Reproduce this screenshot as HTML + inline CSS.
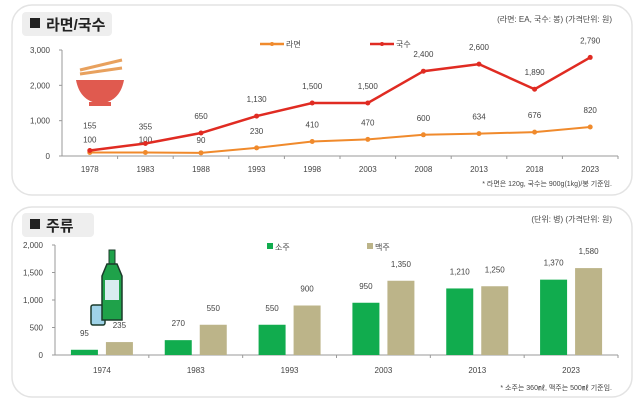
<!DOCTYPE html>
<html><head><meta charset="utf-8"><style>
body{margin:0;width:640px;height:400px;background:#fff;font-family:"Liberation Sans","Noto Sans CJK KR",sans-serif;overflow:hidden}
svg{display:block}
text{font-family:"Liberation Sans","Noto Sans CJK KR",sans-serif}
</style></head><body>
<svg width="640" height="400">
<g>
<rect x="12" y="5" width="620" height="190" rx="20" fill="#fff" stroke="#e3e3e3" stroke-width="1.5"/>
<rect x="22" y="12" width="90" height="24" rx="4" fill="#eeeeee"/>
<rect x="30" y="18" width="10" height="10" fill="#222"/>
<text x="46" y="30" font-size="15" font-weight="bold" fill="#222">라면/국수</text>
<text x="612" y="22" font-size="8" fill="#444" text-anchor="end">(라면: EA, 국수: 봉) (가격단위: 원)</text>
<text x="612" y="186" font-size="7" fill="#444" text-anchor="end">* 라면은 120g, 국수는 900g(1kg)/봉 기준임.</text>
<g>
<line x1="80" y1="70" x2="122" y2="60" stroke="#e8a15e" stroke-width="3"/>
<line x1="80" y1="74" x2="122" y2="68" stroke="#e8a15e" stroke-width="3"/>
<path d="M76 80 h48 c-3 16 -12 22 -24 24 c-12 -2 -21 -8 -24 -24z" fill="#e05a4f"/>
<rect x="89" y="102" width="22" height="4" fill="#e05a4f"/>
</g>
<g id="g1"></g>
</g>
<g>
<rect x="12" y="207" width="620" height="190" rx="20" fill="#fff" stroke="#e3e3e3" stroke-width="1.5"/>
<rect x="22" y="213" width="72" height="24" rx="4" fill="#eeeeee"/>
<rect x="30" y="219" width="10" height="10" fill="#222"/>
<text x="46" y="231" font-size="15" font-weight="bold" fill="#222">주류</text>
<text x="612" y="222" font-size="8" fill="#444" text-anchor="end">(단위: 병) (가격단위: 원)</text>
<text x="612" y="390" font-size="7" fill="#444" text-anchor="end">* 소주는 360㎖, 맥주는 500㎖ 기준임.</text>
<g>
<rect x="91" y="305" width="14" height="20" rx="2" fill="#9fd3e8" stroke="#1b3a2a" stroke-width="1.5"/>
<rect x="109" y="250" width="6" height="14" fill="#1fa24a" stroke="#1b3a2a"/>
<path d="M107 264 h10 l5 12 v44 h-20 v-44z" fill="#1fa24a" stroke="#1b3a2a" stroke-width="1.5"/>
<rect x="105" y="280" width="14" height="20" fill="#d8ecf0"/>
</g>
<g id="g2"></g>
</g>
</svg>
<script>
const noodleYears=["1978","1983","1988","1993","1998","2003","2008","2013","2018","2023"];
const ramenValues=[100,100,90,230,410,470,600,634,676,820];
const noodleValues=[155,355,650,1130,1500,1500,2400,2600,1890,2790];
const noodleTicks=[0,1000,2000,3000];
const liquorYears=["1974","1983","1993","2003","2013","2023"];
const sojuValues=[95,270,550,950,1210,1370];
const beerValues=[235,550,900,1350,1250,1580];
const liquorTicks=[0,500,1000,1500,2000];
const NS="http://www.w3.org/2000/svg";
function mk(p,t,a){const e=document.createElementNS(NS,t);for(const k in a)e.setAttribute(k,a[k]);p.appendChild(e);return e;}
const fmt=v=>v.toLocaleString('en-US');
// chart 1
const g1=document.getElementById('g1');
const x1L=62,x1R=618,y1=v=>156-v*(106/3000);
const bw1=(x1R-x1L)/noodleYears.length;
const xc1=i=>x1L+bw1*(i+0.5);
let ax=mk(g1,'line',{x1:x1L,x2:x1R,y1:156,y2:156,stroke:'#999'});

ax=mk(g1,'line',{x1:x1L,x2:x1L,y1:50,y2:156,stroke:'#999'});

noodleTicks.forEach(v=>{const t=mk(g1,'text',{x:50,y:y1(v)+3,'font-size':8,fill:'#444','text-anchor':'end'});t.textContent=fmt(v);

mk(g1,'line',{x1:x1L-3,x2:x1L,y1:y1(v),y2:y1(v),stroke:'#999'});});
noodleYears.forEach((c,i)=>{const t=mk(g1,'text',{x:xc1(i),y:172,'font-size':8,fill:'#444','text-anchor':'middle'});t.textContent=c;

mk(g1,'line',{x1:x1L+bw1*(i+1),x2:x1L+bw1*(i+1),y1:156,y2:159,stroke:'#999'});});
[[ramenValues,'#f08a2c','ramen-line',2,10],[noodleValues,'#e02b22','noodle-line',2.5,14]].forEach(([vals,col,nm,w,off])=>{
const p=mk(g1,'polyline',{points:vals.map((v,i)=>xc1(i)+','+y1(v)).join(' '),fill:'none',stroke:col,'stroke-width':w});

vals.forEach((v,i)=>{const c=mk(g1,'circle',{cx:xc1(i),cy:y1(v),r:2.5,fill:col});

const t=mk(g1,'text',{x:xc1(i),y:y1(v)-(i===0&&nm==='noodle-line'?22:(nm==='ramen-line'&&i>2?off+4:off)),'font-size':8,fill:'#444','text-anchor':'middle'});t.textContent=fmt(v);
});});
[['라면','#f08a2c',260],['국수','#e02b22',370]].forEach(([l,c,x])=>{
const g=mk(g1,'g',{});
mk(g,'line',{x1:x,x2:x+24,y1:44,y2:44,stroke:c,'stroke-width':2.5});mk(g,'circle',{cx:x+12,cy:44,r:2,fill:c});
const t=mk(g,'text',{x:x+26,y:47,'font-size':8,fill:'#444'});t.textContent=l;});
// chart 2
const g2=document.getElementById('g2');
const x2L=55,x2R=618,y2=v=>355-v*(110/2000);
const bw2=(x2R-x2L)/liquorYears.length;
const xc2=i=>x2L+bw2*(i+0.5);
ax=mk(g2,'line',{x1:x2L,x2:x2R,y1:355,y2:355,stroke:'#999'});

ax=mk(g2,'line',{x1:x2L,x2:x2L,y1:245,y2:355,stroke:'#999'});

liquorTicks.forEach(v=>{const t=mk(g2,'text',{x:43,y:y2(v)+3,'font-size':8,fill:'#444','text-anchor':'end'});t.textContent=fmt(v);

mk(g2,'line',{x1:x2L-3,x2:x2L,y1:y2(v),y2:y2(v),stroke:'#999'});});
liquorYears.forEach((c,i)=>{const t=mk(g2,'text',{x:xc2(i),y:373,'font-size':8,fill:'#444','text-anchor':'middle'});t.textContent=c;

mk(g2,'line',{x1:x2L+bw2*(i+1),x2:x2L+bw2*(i+1),y1:355,y2:358,stroke:'#999'});});
[[sojuValues,'#11ac4e',-31,'soju-bar'],[beerValues,'#bcb489',4,'beer-bar']].forEach(([vals,col,off,nm])=>{
vals.forEach((v,i)=>{const r=mk(g2,'rect',{x:xc2(i)+off,y:y2(v),width:27,height:355-y2(v),fill:col});

const t=mk(g2,'text',{x:xc2(i)+off+13.5,y:y2(v)-14,'font-size':8,fill:'#444','text-anchor':'middle'});t.textContent=fmt(v);
});});
[['소주','#11ac4e',267],['맥주','#bcb489',367]].forEach(([l,c,x])=>{
const g=mk(g2,'g',{});
mk(g,'rect',{x:x,y:243,width:6,height:6,fill:c});
const t=mk(g,'text',{x:x+8,y:250,'font-size':8,fill:'#444'});t.textContent=l;});
</script>
</body></html>
